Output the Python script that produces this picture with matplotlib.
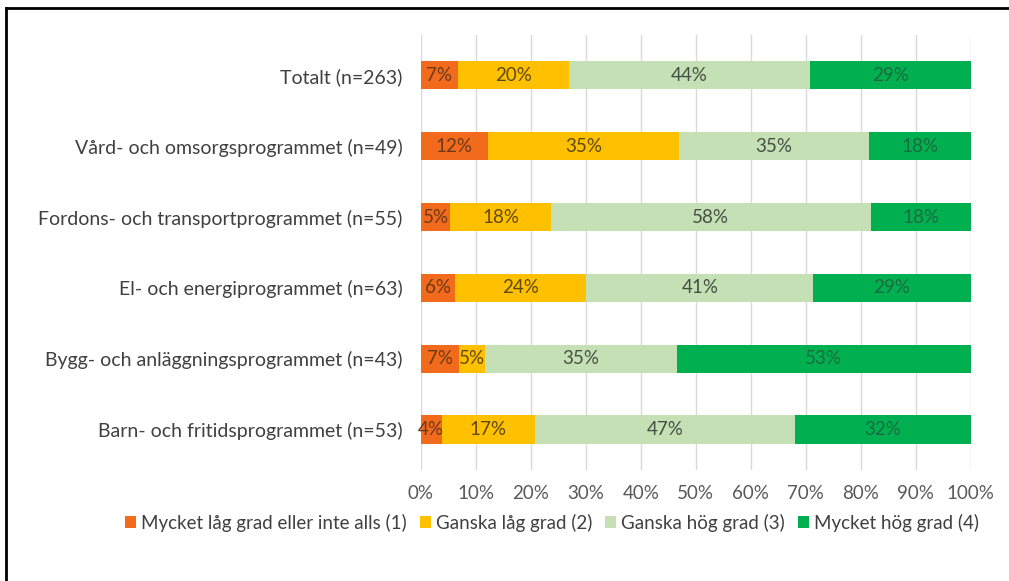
import matplotlib
matplotlib.use('Agg')
import matplotlib.pyplot as plt
from matplotlib.lines import Line2D
import numpy as np

categories = [
    'Totalt (n=263)',
    'Vård- och omsorgsprogrammet (n=49)',
    'Fordons- och transportprogrammet (n=55)',
    'El- och energiprogrammet (n=63)',
    'Bygg- och anläggningsprogrammet (n=43)',
    'Barn- och fritidsprogrammet (n=53)',
]
series_names = [
    'Mycket låg grad eller inte alls (1)',
    'Ganska låg grad (2)',
    'Ganska hög grad (3)',
    'Mycket hög grad (4)',
]
level1 = [6.8, 12.2, 5.4, 6.3, 7.0, 3.8]
level2 = [20.2, 34.7, 18.2, 23.8, 4.7, 17.0]
level3 = [43.7, 34.7, 58.2, 41.3, 34.9, 47.2]
level4 = [29.3, 18.4, 18.2, 28.6, 53.4, 32.0]
colors = ['#F26A1B', '#FFC000', '#C5E0B4', '#00B050']
label_colors = ['#6b3a1a', '#5e4a10', '#445044', '#1d6b3c']

plt.rcParams['font.family'] = ['Lato', 'DejaVu Sans']

fig = plt.figure(figsize=(10.09, 5.81), dpi=100)
ax = fig.add_axes([0.417, 0.191, 0.545, 0.749])

y = np.arange(len(categories))
left = np.zeros(len(categories))
for vals, name, col, lcol in zip([level1, level2, level3, level4], series_names, colors, label_colors):
    vals = np.array(vals)
    bars = ax.barh(y, vals, left=left, height=0.4, color=col, label=name, zorder=2)
    ax.bar_label(bars, labels=['%d%%' % round(v) for v in vals], label_type='center',
                 color=lcol, fontsize=13.5)
    left += vals

ax.set_xlim(0, 100)
ax.set_ylim(len(categories) - 0.43, -0.57)
ax.set_xticks(np.arange(0, 101, 10))
ax.set_xticklabels(['%d%%' % t for t in range(0, 101, 10)])
ax.set_yticks(y)
ax.set_yticklabels(categories)
ax.tick_params(axis='both', length=0, colors='#595959', labelsize=13.5)
ax.tick_params(axis='y', pad=13, labelcolor='#404040', labelsize=14)
ax.tick_params(axis='x', pad=11)
ax.xaxis.grid(True, color='#D9D9D9', linewidth=1, zorder=0)
ax.set_axisbelow(True)
for s in ax.spines.values():
    s.set_visible(False)

handles, labels = ax.get_legend_handles_labels()
leg = fig.legend(handles, labels, loc='center', bbox_to_anchor=(0.547, 0.100), ncol=4,
                 frameon=False, fontsize=13.5, handlelength=0.6, handleheight=0.6,
                 handletextpad=0.25, columnspacing=0.7, labelcolor='#404040')

# outer frame (cropped at right and bottom)
fig.add_artist(Line2D([0.0055, 0.0055], [0.0, 0.986], color='black', linewidth=2, transform=fig.transFigure))
fig.add_artist(Line2D([0.0055, 1.0], [0.986, 0.986], color='black', linewidth=2, transform=fig.transFigure))

fig.savefig('out.png', dpi=100)
